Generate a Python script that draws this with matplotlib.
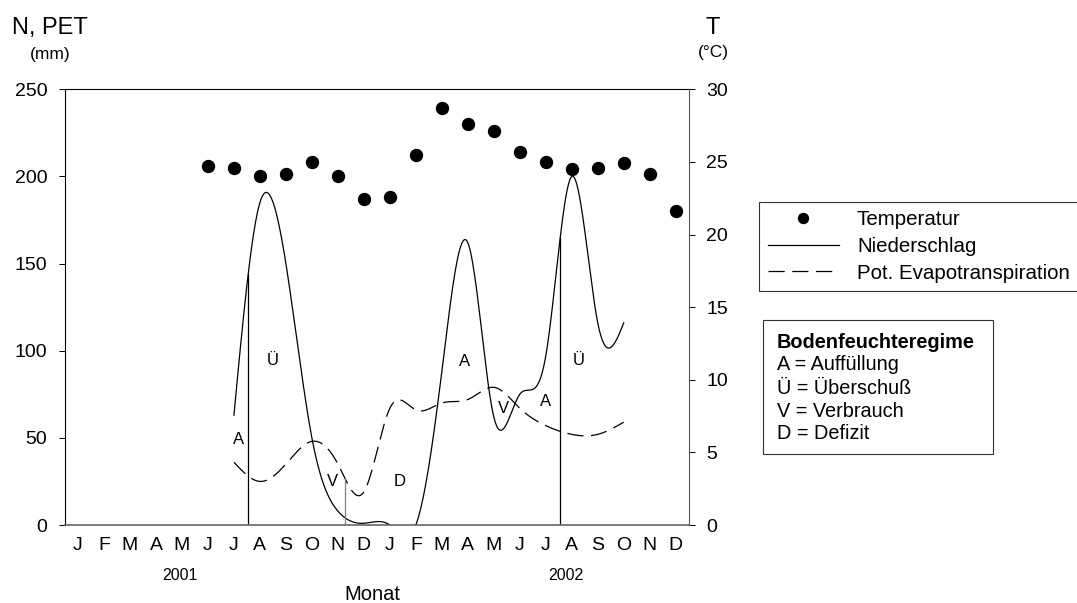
import numpy as np
import matplotlib.pyplot as plt
from matplotlib.lines import Line2D
from matplotlib.patches import Rectangle

plt.rcParams['font.family'] = ['Liberation Sans', 'DejaVu Sans']

# Monate Jan 2001 .. Dez 2002 (Index 0..23)
month_labels = ['J', 'F', 'M', 'A', 'M', 'J', 'J', 'A', 'S', 'O', 'N', 'D'] * 2

# Temperatur (°C), Jun 2001 .. Dez 2002
temp_month = np.arange(5, 24)
temp = [24.7, 24.6, 24.0, 24.2, 25.0, 24.0, 22.45, 22.6, 25.5, 28.7,
        27.6, 27.1, 25.7, 25.0, 24.5, 24.6, 24.9, 24.2, 21.6]

# Niederschlag und pot. Evapotranspiration (mm), Jul 2001 .. Okt 2002
rain_month = np.arange(6, 22)
rain = [63, 185, 150, 50, 8, 1, 0, 0, 88, 162, 62, 75, 97, 200, 116, 116]
pet = [36, 25, 35, 48, 35, 19, 67, 66, 70, 72, 79, 67, 57, 52, 52, 59]

# Lotlinien (Grenzen der Bodenfeuchteregime)
drop_x = [6.55, 10.27, 18.56]
drop_on = ['rain', 'pet', 'rain']

# Regime-Buchstaben: (x, mm, Text)
regime_x = [6.17, 7.51, 9.80, 12.38, 14.88, 16.36, 18.0, 19.27]
regime_y = [49, 94.6, 24.8, 24.8, 94, 67, 70.7, 94.6]
regime_txt = ['A', 'Ü', 'V', 'D', 'A', 'V', 'A', 'Ü']


def natural_spline(x, y):
    x = np.asarray(x, float)
    y = np.asarray(y, float)
    m = len(x)
    h = np.diff(x)
    A = np.zeros((m, m))
    b = np.zeros(m)
    A[0, 0] = A[-1, -1] = 1
    for i in range(1, m - 1):
        A[i, i - 1] = h[i - 1]
        A[i, i] = 2 * (h[i - 1] + h[i])
        A[i, i + 1] = h[i]
        b[i] = 6 * ((y[i + 1] - y[i]) / h[i] - (y[i] - y[i - 1]) / h[i - 1])
    M = np.linalg.solve(A, b)

    def f(t):
        t = np.atleast_1d(np.asarray(t, float))
        i = np.clip(np.searchsorted(x, t) - 1, 0, m - 2)
        dx = x[i + 1] - x[i]
        a = (x[i + 1] - t) / dx
        c = (t - x[i]) / dx
        return (a * y[i] + c * y[i + 1]
                + ((a ** 3 - a) * M[i] + (c ** 3 - c) * M[i + 1]) * dx ** 2 / 6)
    return f


W, H = 1077, 603


def fx(px):
    return px / W


def fy(py):
    return 1 - py / H


fig = plt.figure(figsize=(W / 100, H / 100), dpi=100)
ax = fig.add_axes([fx(65), fy(525), (688.7 - 65) / W, (525 - 89.3) / H])

f_rain = natural_spline(rain_month, rain)
f_pet = natural_spline(rain_month, pet)
xs = np.linspace(rain_month[0], rain_month[-1], 600)

ax.plot(xs, f_rain(xs), color='black', lw=0.9)
ax.plot(xs, f_pet(xs), color='black', lw=0.9, dashes=(13, 6))

for x, which in zip(drop_x, drop_on):
    top = (f_rain if which == 'rain' else f_pet)(x)[0]
    col = '#808080' if which == 'pet' else 'black'
    ax.vlines(x, 0, top, color=col, lw=0.9)

for x, y, t in zip(regime_x, regime_y, regime_txt):
    ax.text(x, y, t, ha='center', va='center', fontsize=12)

ax.set_xlim(-0.5, 23.5)
ax.set_ylim(0, 250)
ax.set_yticks(np.arange(0, 251, 50))
ax.set_xticks(np.arange(24))
ax.set_xticklabels(month_labels)
ax.tick_params(axis='y', direction='out', length=4.3, width=0.7,
               labelsize=14, pad=8.4)
ax.tick_params(axis='x', length=0, labelsize=14, pad=9)
ax.spines['bottom'].set_color('#666666')
ax.spines['bottom'].set_linewidth(1.2)
for s in ['left', 'top']:
    ax.spines[s].set_linewidth(0.8)
ax.spines['right'].set_visible(False)

ax2 = ax.twinx()
ax2.set_ylim(0, 30)
ax2.set_yticks(np.arange(0, 31, 5))
ax2.plot(temp_month, temp, 'o', color='black', markersize=8.6)
ax2.tick_params(axis='y', direction='out', length=4.3, width=0.7,
                labelsize=14, pad=8.4)
for s in ['left', 'top', 'bottom']:
    ax2.spines[s].set_visible(False)
ax2.spines['right'].set_color('#555555')
ax2.spines['right'].set_linewidth(0.8)

# Achsentitel
fig.text(fx(50), fy(34.3), 'N, PET', ha='center', va='baseline', fontsize=17)
fig.text(fx(50), fy(58.5), '(mm)', ha='center', va='baseline', fontsize=12.5)
fig.text(fx(712.5), fy(34.3), 'T', ha='center', va='baseline', fontsize=17)
fig.text(fx(713), fy(56.5), '(°C)', ha='center', va='baseline', fontsize=12.5)
fig.text(fx(180), fy(580), '2001', ha='center', va='baseline', fontsize=11.5)
fig.text(fx(565.7), fy(580), '2002', ha='center', va='baseline', fontsize=11.5)
fig.text(fx(372), fy(600), 'Monat', ha='center', va='baseline', fontsize=14.5)

# Legende
handles = [
    Line2D([], [], marker='o', ls='none', color='black', markersize=7.2),
    Line2D([], [], color='black', lw=0.9),
    Line2D([], [], color='black', lw=0.9, dashes=(13, 6)),
]
labels = ['Temperatur', 'Niederschlag', 'Pot. Evapotranspiration']
leg = fig.legend(handles, labels, loc='upper left',
                 bbox_to_anchor=(fx(759.3), fy(201.7)), borderaxespad=0,
                 fancybox=False, edgecolor='#333333', framealpha=1,
                 fontsize=14.8, handlelength=3.5, handletextpad=0.85,
                 labelspacing=0.38, borderpad=0.4)
leg.get_frame().set_linewidth(0.8)

# Bodenfeuchteregime-Kasten
box = Rectangle((fx(763.3), fy(454)), (992.7 - 763.3) / W, (454 - 320) / H,
                transform=fig.transFigure, fill=False, lw=0.8,
                edgecolor='#333333')
fig.add_artist(box)
fig.text(fx(777), fy(342.7), 'Bodenfeuchteregime', fontsize=14.3,
         fontweight='bold', va='center')
regime_lines = ['A = Auffüllung', 'Ü = Überschuß', 'V = Verbrauch',
                'D = Defizit']
for py, t in zip([365, 388.3, 411.7, 433.3], regime_lines):
    fig.text(fx(777), fy(py), t, fontsize=14.3, va='center')

fig.savefig('out.png', dpi=100)
